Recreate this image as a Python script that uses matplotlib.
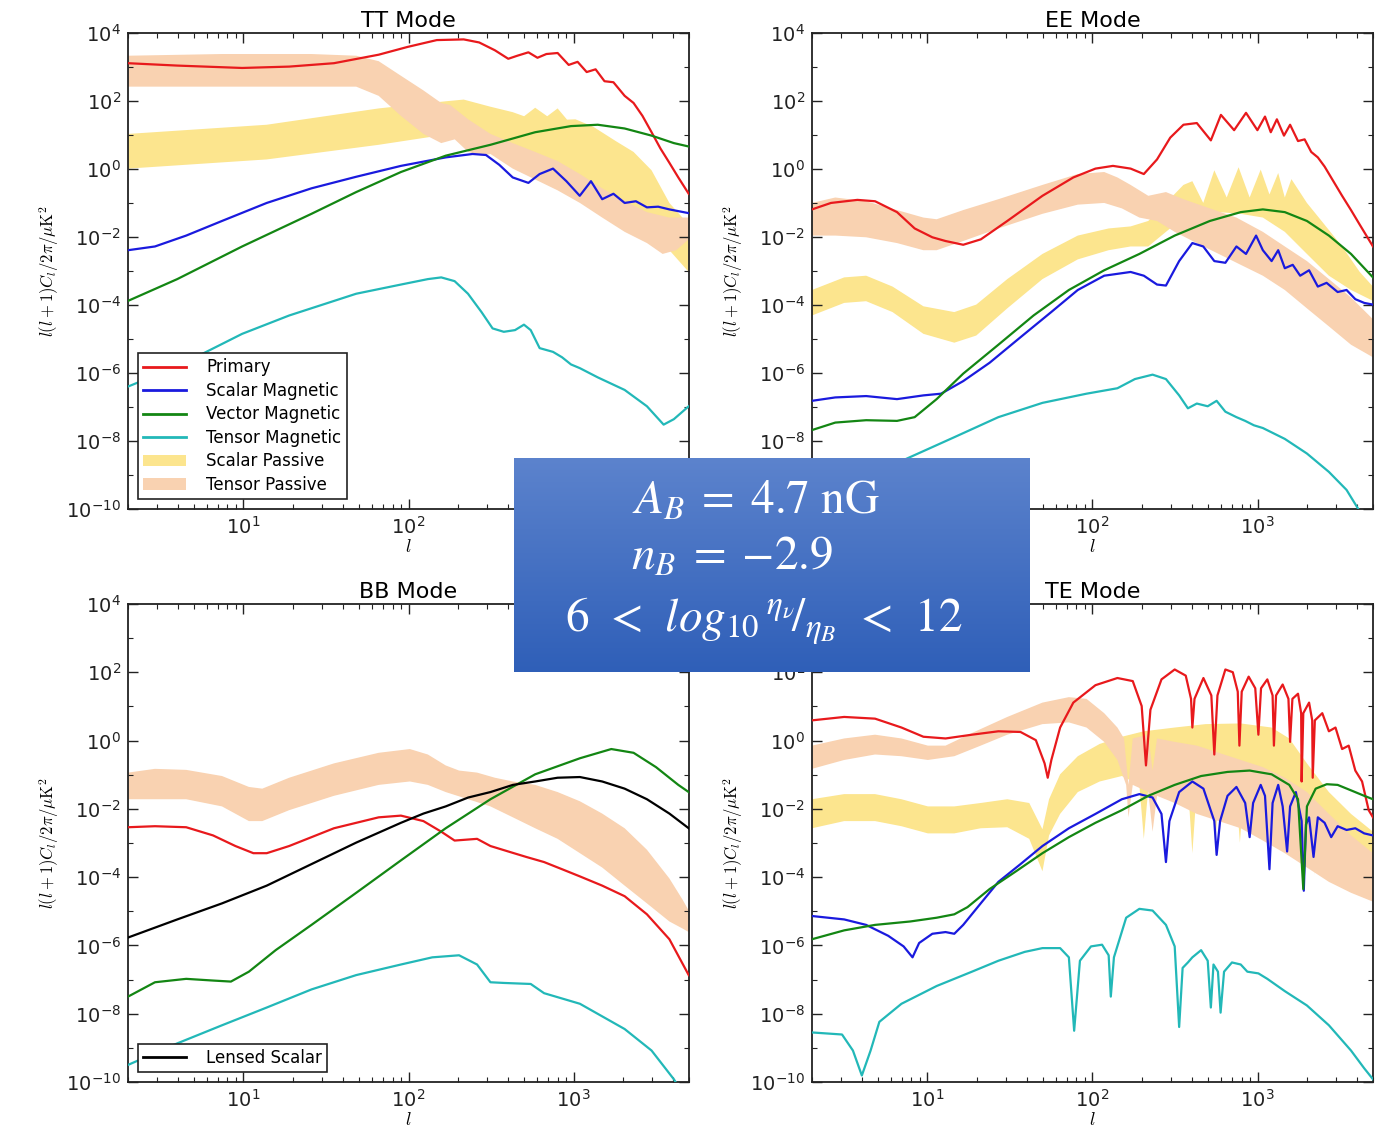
import numpy as np
import matplotlib.pyplot as plt
from matplotlib.patches import Patch
from matplotlib.lines import Line2D
from matplotlib.ticker import FuncFormatter, NullFormatter
from matplotlib.colors import LinearSegmentedColormap

plt.rcParams['mathtext.fontset'] = 'cm'
plt.rcParams['font.family'] = 'DejaVu Sans'

# all points are (log10 l, log10 l(l+1)C_l/2pi)

# ---- TT ----
tt_primary = [(0.301, 3.11), (0.599, 3.04), (0.992, 2.97), (1.277, 3.01), (1.548, 3.11), (1.819, 3.36),
              (1.995, 3.59), (2.171, 3.79), (2.334, 3.81), (2.428, 3.72), (2.523, 3.49), (2.604, 3.24),
              (2.659, 3.33), (2.726, 3.43), (2.781, 3.27), (2.835, 3.38), (2.903, 3.41), (2.970, 3.06),
              (3.024, 3.15), (3.079, 2.85), (3.133, 2.93), (3.187, 2.58), (3.241, 2.55), (3.309, 2.15),
              (3.363, 1.94), (3.417, 1.56), (3.472, 1.08), (3.526, 0.60), (3.580, 0.18), (3.634, -0.25),
              (3.697, -0.73)]
tt_scalar = [(0.301, -2.39), (0.464, -2.28), (0.653, -1.96), (0.870, -1.53), (1.141, -1.00), (1.412, -0.57),
             (1.683, -0.23), (1.954, 0.09), (2.225, 0.34), (2.388, 0.44), (2.469, 0.41), (2.550, 0.12),
             (2.631, -0.25), (2.726, -0.41), (2.794, -0.15), (2.875, 0.01), (2.956, -0.36), (3.037, -0.79),
             (3.105, -0.36), (3.173, -0.89), (3.241, -0.73), (3.309, -1.00), (3.377, -0.95), (3.444, -1.13),
             (3.512, -1.11), (3.580, -1.19), (3.697, -1.30)]
tt_vector = [(0.301, -3.88), (0.599, -3.24), (0.992, -2.28), (1.412, -1.32), (1.683, -0.68), (1.954, -0.09),
             (2.225, 0.39), (2.496, 0.71), (2.767, 1.08), (2.984, 1.26), (3.146, 1.30), (3.309, 1.19),
             (3.472, 0.98), (3.607, 0.76), (3.697, 0.66)]
tt_tensor = [(0.301, -6.40), (0.599, -5.81), (0.992, -4.85), (1.277, -4.31), (1.683, -3.67), (1.954, -3.40),
             (2.117, -3.24), (2.198, -3.19), (2.279, -3.30), (2.360, -3.67), (2.442, -4.21), (2.509, -4.69),
             (2.577, -4.79), (2.645, -4.74), (2.699, -4.58), (2.740, -4.74), (2.794, -5.27), (2.875, -5.38),
             (2.930, -5.54), (2.984, -5.75), (3.038, -5.86), (3.146, -6.13), (3.309, -6.50), (3.444, -6.98),
             (3.545, -7.52), (3.607, -7.36), (3.697, -6.98)]
tt_spass_hi = [(0.301, 1.03), (1.141, 1.30), (1.819, 1.78), (2.225, 1.99), (2.334, 2.04), (2.496, 1.83),
               (2.631, 1.67), (2.700, 1.55), (2.767, 1.80), (2.840, 1.55), (2.903, 1.78), (2.960, 1.45),
               (3.011, 1.46), (3.119, 1.24), (3.255, 0.82), (3.363, 0.50), (3.472, -0.04), (3.580, -1.00),
               (3.697, -1.64)]
tt_spass_lo = [(0.301, 0.01), (1.141, 0.28), (1.819, 0.71), (2.225, 1.01), (2.334, 0.87), (2.496, 0.50),
               (2.631, 0.23), (2.767, 0.07), (2.903, -0.15), (3.038, -0.47), (3.173, -0.84), (3.309, -1.11),
               (3.444, -1.64), (3.580, -2.39), (3.697, -3.03)]
tt_tpass_hi = [(0.301, 3.33), (0.870, 3.38), (1.412, 3.38), (1.683, 3.33), (1.819, 3.17), (1.954, 2.74),
               (2.090, 2.31), (2.198, 1.94), (2.252, 1.88), (2.361, 1.46), (2.496, 1.03), (2.631, 0.76),
               (2.767, 0.50), (2.903, 0.23), (3.038, -0.15), (3.173, -0.57), (3.309, -0.95), (3.444, -1.27),
               (3.580, -1.43), (3.697, -1.43)]
tt_tpass_lo = [(0.301, 2.42), (0.870, 2.42), (1.412, 2.42), (1.683, 2.42), (1.819, 2.15), (1.954, 1.56),
               (2.090, 1.03), (2.198, 0.76), (2.280, 0.87), (2.361, 0.50), (2.442, 0.39), (2.496, 0.44),
               (2.631, 0.01), (2.767, -0.31), (2.903, -0.63), (3.038, -1.00), (3.173, -1.43), (3.309, -1.85),
               (3.444, -2.18), (3.539, -2.50), (3.621, -2.39), (3.697, -2.07)]

# ---- EE ----
ee_primary = [(0.301, -1.19), (0.416, -1.00), (0.576, -0.91), (0.683, -0.95), (0.816, -1.27), (0.923, -1.75),
              (1.030, -2.01), (1.110, -2.12), (1.217, -2.23), (1.324, -2.07), (1.484, -1.53), (1.697, -0.79),
              (1.884, -0.25), (2.018, 0.01), (2.124, 0.09), (2.231, 0.01), (2.311, -0.15), (2.391, 0.28),
              (2.471, 0.92), (2.551, 1.30), (2.632, 1.35), (2.717, 0.84), (2.778, 1.59), (2.858, 1.14),
              (2.930, 1.65), (2.999, 1.14), (3.045, 1.54), (3.080, 1.08), (3.117, 1.46), (3.160, 0.98),
              (3.197, 1.30), (3.245, 0.82), (3.285, 0.87), (3.325, 0.50), (3.365, 0.34), (3.406, 0.07),
              (3.459, -0.36), (3.512, -0.79), (3.566, -1.21), (3.619, -1.64), (3.699, -2.28)]
ee_scalar = [(0.301, -6.82), (0.442, -6.72), (0.629, -6.68), (0.816, -6.77), (0.976, -6.66), (1.083, -6.61),
             (1.217, -6.24), (1.377, -5.70), (1.564, -4.95), (1.750, -4.21), (1.911, -3.56), (2.071, -3.14),
             (2.231, -3.03), (2.311, -3.14), (2.391, -3.40), (2.445, -3.43), (2.525, -2.71), (2.605, -2.18),
             (2.671, -2.28), (2.738, -2.71), (2.805, -2.76), (2.872, -2.28), (2.930, -2.50), (2.991, -1.96),
             (3.032, -2.39), (3.085, -2.71), (3.125, -2.39), (3.165, -2.92), (3.213, -2.82), (3.258, -3.14),
             (3.312, -2.98), (3.365, -3.46), (3.418, -3.35), (3.485, -3.62), (3.539, -3.56), (3.592, -3.83),
             (3.646, -3.94), (3.699, -3.99)]
ee_vector = [(0.301, -7.68), (0.442, -7.46), (0.629, -7.39), (0.816, -7.41), (0.923, -7.30), (1.056, -6.77),
             (1.217, -6.02), (1.430, -5.17), (1.643, -4.31), (1.857, -3.56), (2.071, -2.98), (2.284, -2.50),
             (2.498, -1.96), (2.711, -1.53), (2.898, -1.27), (3.032, -1.19), (3.165, -1.27), (3.299, -1.53),
             (3.432, -1.96), (3.566, -2.50), (3.699, -3.19)]
ee_tensor = [(0.301, -9.78), (0.843, -8.59), (1.163, -7.89), (1.430, -7.30), (1.697, -6.88), (1.964, -6.61),
             (2.151, -6.45), (2.257, -6.18), (2.364, -6.05), (2.445, -6.18), (2.525, -6.66), (2.578, -7.04),
             (2.632, -6.90), (2.698, -6.98), (2.752, -6.82), (2.805, -7.14), (2.872, -7.30), (2.925, -7.41),
             (2.978, -7.54), (3.032, -7.62), (3.165, -7.94), (3.299, -8.37), (3.432, -8.91), (3.539, -9.44),
             (3.606, -9.97), (3.646, -10.3)]
ee_spass_hi = [(0.301, -3.56), (0.496, -3.19), (0.629, -3.14), (0.789, -3.46), (0.976, -4.04), (1.163, -4.21),
               (1.296, -3.99), (1.484, -3.24), (1.697, -2.50), (1.911, -1.96), (2.098, -1.75), (2.231, -1.69),
               (2.338, -1.53), (2.445, -1.00), (2.551, -0.47), (2.605, -0.36), (2.671, -1.00), (2.738, -0.04),
               (2.813, -0.84), (2.885, 0.05), (2.952, -0.84), (3.019, -0.02), (3.072, -0.75), (3.125, -0.12),
               (3.165, -0.84), (3.205, -0.30), (3.299, -1.00), (3.406, -1.64), (3.512, -2.28), (3.619, -3.03),
               (3.699, -3.46)]
ee_spass_lo = [(0.301, -4.31), (0.496, -3.94), (0.629, -3.89), (0.789, -4.21), (0.976, -4.85), (1.163, -5.11),
               (1.296, -4.90), (1.484, -4.10), (1.697, -3.24), (1.911, -2.66), (2.098, -2.39), (2.231, -2.28),
               (2.338, -2.28), (2.445, -1.85), (2.551, -1.43), (2.658, -1.21), (2.765, -1.27), (2.898, -1.32),
               (3.032, -1.43), (3.165, -1.85), (3.299, -2.50), (3.432, -3.14), (3.566, -3.56), (3.699, -3.88)]
ee_tpass_hi = [(0.301, -1.00), (0.442, -0.84), (0.629, -0.95), (0.816, -1.21), (0.976, -1.43), (1.056, -1.48),
               (1.217, -1.21), (1.430, -0.89), (1.697, -0.47), (1.911, -0.15), (2.071, -0.09), (2.151, -0.25),
               (2.231, -0.47), (2.338, -0.79), (2.445, -0.68), (2.551, -0.89), (2.711, -1.16), (2.872, -1.43),
               (3.032, -1.85), (3.165, -2.28), (3.299, -2.71), (3.432, -3.24), (3.566, -3.78), (3.699, -4.42)]
ee_tpass_lo = [(0.301, -1.96), (0.442, -1.96), (0.629, -2.01), (0.816, -2.18), (0.976, -2.39), (1.056, -2.39),
               (1.217, -2.12), (1.430, -1.75), (1.697, -1.32), (1.911, -1.05), (2.071, -1.00), (2.178, -1.16),
               (2.284, -1.43), (2.391, -1.53), (2.498, -1.85), (2.631, -2.18), (2.765, -2.50), (2.898, -2.82),
               (3.032, -3.14), (3.165, -3.56), (3.299, -4.10), (3.432, -4.63), (3.566, -5.17), (3.699, -5.54)]

# ---- BB ----
bb_primary = [(0.301, -2.54), (0.464, -2.51), (0.653, -2.54), (0.816, -2.78), (0.951, -3.09), (1.060, -3.30),
              (1.141, -3.30), (1.277, -3.09), (1.548, -2.57), (1.819, -2.25), (1.954, -2.20), (2.090, -2.36),
              (2.198, -2.67), (2.279, -2.93), (2.361, -2.90), (2.415, -2.88), (2.496, -3.09), (2.604, -3.25),
              (2.713, -3.41), (2.821, -3.56), (2.930, -3.77), (3.038, -3.98), (3.173, -4.25), (3.309, -4.56),
              (3.444, -5.09), (3.580, -5.82), (3.697, -6.87)]
bb_lensed = [(0.301, -5.77), (0.599, -5.24), (0.870, -4.77), (1.141, -4.25), (1.412, -3.62), (1.683, -2.99),
             (1.954, -2.41), (2.090, -2.14), (2.225, -1.93), (2.361, -1.67), (2.496, -1.51), (2.632, -1.30),
             (2.767, -1.20), (2.903, -1.09), (3.038, -1.07), (3.173, -1.20), (3.309, -1.41), (3.444, -1.72),
             (3.580, -2.14), (3.697, -2.57)]
bb_vector = [(0.301, -7.50), (0.464, -7.08), (0.653, -6.98), (0.816, -7.03), (0.924, -7.06), (1.033, -6.77),
             (1.195, -6.14), (1.412, -5.40), (1.683, -4.46), (1.954, -3.51), (2.225, -2.57), (2.496, -1.72),
             (2.767, -0.99), (3.038, -0.52), (3.228, -0.25), (3.363, -0.36), (3.499, -0.78), (3.634, -1.30),
             (3.697, -1.51)]
bb_tensor = [(0.301, -9.50), (0.599, -8.87), (0.870, -8.34), (1.141, -7.82), (1.412, -7.29), (1.683, -6.87),
             (1.954, -6.56), (2.144, -6.35), (2.306, -6.29), (2.415, -6.56), (2.496, -7.08), (2.577, -7.10),
             (2.740, -7.13), (2.821, -7.40), (3.038, -7.71), (3.309, -8.45), (3.472, -9.08), (3.607, -9.92),
             (3.661, -10.34)]
bb_tpass_hi = [(0.301, -0.94), (0.464, -0.83), (0.653, -0.86), (0.870, -1.04), (1.033, -1.36), (1.114, -1.41),
               (1.277, -1.09), (1.548, -0.67), (1.819, -0.36), (2.008, -0.25), (2.117, -0.41), (2.225, -0.73),
               (2.306, -0.88), (2.415, -0.94), (2.523, -1.09), (2.632, -1.20), (2.767, -1.30), (2.903, -1.51),
               (3.038, -1.78), (3.173, -2.14), (3.309, -2.57), (3.444, -3.20), (3.580, -4.04), (3.661, -4.67),
               (3.697, -4.98)]
bb_tpass_lo = [(0.301, -1.72), (0.464, -1.72), (0.653, -1.72), (0.870, -1.93), (1.033, -2.36), (1.114, -2.36),
               (1.277, -2.04), (1.548, -1.62), (1.819, -1.30), (2.008, -1.20), (2.117, -1.30), (2.225, -1.51),
               (2.361, -1.72), (2.496, -1.93), (2.632, -2.25), (2.767, -2.57), (2.903, -2.88), (3.038, -3.30),
               (3.173, -3.72), (3.309, -4.25), (3.444, -4.77), (3.580, -5.30), (3.661, -5.51), (3.697, -5.61)]

# ---- TE ----
te_primary = [(0.301, 0.59), (0.496, 0.69), (0.683, 0.64), (0.843, 0.38), (0.976, 0.11), (1.110, 0.06),
              (1.270, 0.17), (1.430, 0.27), (1.564, 0.25), (1.657, 0.01), (1.710, -0.67), (1.729, -1.09),
              (1.751, -0.57), (1.804, 0.38), (1.884, 1.11), (2.018, 1.62), (2.151, 1.83), (2.244, 1.74),
              (2.298, 1.01), (2.324, -0.73), (2.351, 0.90), (2.418, 1.79), (2.498, 2.08), (2.565, 1.90),
              (2.597, 1.22), (2.605, 0.38), (2.618, 1.22), (2.672, 1.83), (2.720, 1.32), (2.738, -0.41),
              (2.757, 1.32), (2.805, 2.08), (2.850, 2.00), (2.880, 1.43), (2.890, -0.15), (2.904, 1.43),
              (2.946, 1.87), (2.986, 1.53), (3.005, 0.17), (3.021, 1.53), (3.059, 1.79), (3.091, 1.32),
              (3.099, -0.15), (3.112, 1.32), (3.152, 1.64), (3.187, 1.22), (3.197, -0.04), (3.211, 1.22),
              (3.245, 1.37), (3.264, 0.80), (3.267, -1.20), (3.277, 0.80), (3.312, 1.11), (3.331, 0.59),
              (3.334, -1.09), (3.347, 0.59), (3.392, 0.80), (3.432, 0.27), (3.472, 0.38), (3.512, -0.25),
              (3.552, -0.15), (3.592, -0.88), (3.633, -1.20), (3.673, -2.04), (3.699, -2.25)]
te_scalar = [(0.301, -5.14), (0.496, -5.24), (0.629, -5.40), (0.763, -5.72), (0.856, -6.03), (0.910, -6.35),
             (0.950, -5.93), (1.030, -5.66), (1.110, -5.61), (1.163, -5.66), (1.217, -5.40), (1.323, -4.77),
             (1.430, -4.14), (1.564, -3.62), (1.697, -3.09), (1.857, -2.57), (2.018, -2.15), (2.178, -1.72),
             (2.284, -1.57), (2.364, -1.67), (2.418, -2.15), (2.445, -3.56), (2.466, -2.36), (2.525, -1.51),
             (2.605, -1.20), (2.672, -1.41), (2.738, -2.36), (2.752, -3.35), (2.773, -2.36), (2.818, -1.62),
             (2.872, -1.36), (2.925, -1.83), (2.952, -2.83), (2.973, -1.83), (3.019, -1.30), (3.045, -1.62),
             (3.072, -3.77), (3.091, -1.83), (3.125, -1.30), (3.152, -1.93), (3.179, -3.25), (3.197, -1.93),
             (3.232, -1.51), (3.267, -2.36), (3.280, -4.40), (3.293, -2.46), (3.312, -2.25), (3.339, -3.41),
             (3.365, -2.25), (3.406, -2.41), (3.446, -2.83), (3.485, -2.51), (3.539, -2.62), (3.592, -2.57),
             (3.646, -2.72), (3.699, -2.78)]
te_vector = [(0.301, -5.82), (0.496, -5.56), (0.683, -5.40), (0.896, -5.30), (1.056, -5.19), (1.163, -5.09),
             (1.243, -4.88), (1.377, -4.35), (1.537, -3.83), (1.697, -3.30), (1.857, -2.83), (2.018, -2.41),
             (2.178, -2.04), (2.338, -1.62), (2.498, -1.30), (2.658, -1.04), (2.818, -0.92), (2.952, -0.88),
             (3.085, -0.99), (3.192, -1.30), (3.245, -1.72), (3.277, -4.35), (3.299, -1.93), (3.352, -1.41),
             (3.419, -1.28), (3.485, -1.30), (3.566, -1.46), (3.646, -1.62), (3.699, -1.72)]
te_tensor = [(0.301, -8.55), (0.483, -8.61), (0.549, -9.08), (0.603, -9.81), (0.656, -9.08), (0.709, -8.24),
             (0.843, -7.71), (1.056, -7.19), (1.270, -6.77), (1.430, -6.45), (1.590, -6.19), (1.697, -6.08),
             (1.804, -6.08), (1.857, -6.35), (1.889, -8.50), (1.924, -6.45), (1.991, -6.03), (2.058, -5.98),
             (2.098, -6.29), (2.111, -7.50), (2.130, -6.35), (2.204, -5.19), (2.284, -4.93), (2.364, -4.98),
             (2.445, -5.40), (2.498, -6.03), (2.525, -8.39), (2.546, -6.66), (2.578, -6.50), (2.605, -6.35),
             (2.658, -6.14), (2.698, -6.45), (2.717, -7.82), (2.733, -6.56), (2.760, -6.77), (2.776, -7.97),
             (2.797, -6.77), (2.845, -6.50), (2.898, -6.56), (2.938, -6.77), (3.005, -6.82), (3.059, -6.98),
             (3.165, -7.34), (3.299, -7.76), (3.432, -8.34), (3.566, -9.08), (3.646, -9.60), (3.699, -9.92)]
te_spass_hi = [(0.301, -1.72), (0.496, -1.57), (0.683, -1.57), (0.843, -1.72), (1.003, -1.93), (1.163, -1.93),
               (1.323, -1.83), (1.484, -1.72), (1.617, -1.83), (1.697, -2.60), (1.737, -1.72), (1.804, -0.99),
               (1.911, -0.46), (2.044, -0.10), (2.178, 0.11), (2.311, 0.27), (2.498, 0.38), (2.685, 0.48),
               (2.898, 0.50), (3.085, 0.38), (3.192, 0.06), (3.299, -0.67), (3.432, -1.51), (3.566, -2.15),
               (3.699, -2.67)]
te_spass_lo = [(0.301, -2.57), (0.496, -2.36), (0.683, -2.36), (0.843, -2.51), (1.003, -2.72), (1.163, -2.72),
               (1.323, -2.57), (1.484, -2.54), (1.617, -2.88), (1.697, -3.83), (1.737, -2.78), (1.804, -2.15),
               (1.911, -1.51), (2.044, -1.20), (2.178, -1.04), (2.284, -1.30), (2.311, -2.88), (2.338, -1.41),
               (2.445, -1.09), (2.578, -1.30), (2.605, -3.30), (2.632, -1.41), (2.725, -1.51), (2.744, -3.09),
               (2.765, -1.51), (2.872, -1.62), (2.893, -2.99), (2.914, -1.62), (3.005, -1.72), (3.021, -2.78),
               (3.037, -1.72), (3.138, -1.93), (3.245, -2.25), (3.339, -2.57), (3.347, -3.93), (3.357, -2.57),
               (3.459, -2.88), (3.566, -3.20), (3.699, -3.51)]
te_tpass_hi = [(0.301, -0.15), (0.496, 0.06), (0.683, 0.17), (0.843, 0.06), (1.003, -0.15), (1.110, -0.15),
               (1.270, 0.22), (1.484, 0.69), (1.697, 1.11), (1.857, 1.27), (1.964, 1.22), (2.071, 0.80),
               (2.151, 0.38), (2.191, 0.06), (2.218, -1.30), (2.244, 0.06), (2.338, 0.17), (2.364, -0.88),
               (2.391, 0.06), (2.498, -0.04), (2.632, -0.15), (2.765, -0.36), (2.898, -0.57), (3.032, -0.78),
               (3.165, -1.09), (3.299, -1.51), (3.432, -2.15), (3.566, -2.78), (3.699, -3.30)]
te_tpass_lo = [(0.301, -0.83), (0.496, -0.57), (0.683, -0.41), (0.843, -0.46), (1.003, -0.57), (1.163, -0.46),
               (1.323, -0.15), (1.484, 0.17), (1.697, 0.48), (1.857, 0.53), (1.964, 0.38), (2.071, -0.04),
               (2.151, -0.57), (2.204, -1.30), (2.218, -2.25), (2.244, -1.30), (2.338, -1.51), (2.364, -2.67),
               (2.391, -1.62), (2.498, -1.83), (2.632, -2.15), (2.765, -2.36), (2.898, -2.57), (3.032, -2.93),
               (3.165, -3.30), (3.299, -3.72), (3.432, -4.14), (3.566, -4.46), (3.699, -4.72)]

RED, BLUE, GREEN, CYAN = '#e8191c', '#1a1ade', '#138613', '#22b8b8'
YELLOW, PEACH = '#fce58e', '#f9d2b1'


def curve(ax, pts, color):
    a = np.array(pts)
    ax.plot(10 ** a[:, 0], 10 ** a[:, 1], color=color, lw=1.6, zorder=3)


def band(ax, hi, lo, color):
    a = np.array(hi)
    b = np.array(lo)[::-1]
    xs = np.concatenate([a[:, 0], b[:, 0]])
    ys = np.concatenate([a[:, 1], b[:, 1]])
    ax.fill(10 ** xs, 10 ** ys, color=color, lw=0, zorder=1)


def pow_fmt(v, pos):
    return r'$\mathregular{10^{%d}}$' % int(round(np.log10(v)))


def setup(ax, title):
    ax.set_xscale('log')
    ax.set_yscale('log')
    ax.set_xlim(2, 5000)
    ax.set_ylim(1e-10, 1e4)
    ax.set_yticks([10.0 ** k for k in range(-10, 5, 2)])
    ax.set_yticks([10.0 ** k for k in range(-9, 4, 2)], minor=True)
    ax.yaxis.set_minor_formatter(NullFormatter())
    ax.yaxis.set_major_formatter(FuncFormatter(pow_fmt))
    ax.xaxis.set_major_formatter(FuncFormatter(pow_fmt))
    ax.xaxis.set_minor_formatter(NullFormatter())
    ax.tick_params(which='both', direction='in', top=True, right=True, labelsize=14, colors='#222222')
    ax.tick_params(which='major', length=7, width=1, pad=5)
    ax.tick_params(which='minor', length=3.5, width=0.8)
    for s in ax.spines.values():
        s.set_linewidth(1.3)
        s.set_color('#222222')
    ax.set_title(title, fontsize=16, pad=4)
    ax.set_xlabel(r'$l$', fontsize=13, labelpad=0)
    ax.set_ylabel(r'$l(l+1)C_l/2\pi/\mu\mathrm{K}^2$', fontsize=12, labelpad=4)


fig = plt.figure(figsize=(13.8, 11.32), dpi=100)
ax_tt = fig.add_axes([0.0928, 0.5504, 0.4065, 0.4205])
ax_ee = fig.add_axes([0.5884, 0.5504, 0.4065, 0.4205])
ax_bb = fig.add_axes([0.0928, 0.0442, 0.4065, 0.4223])
ax_te = fig.add_axes([0.5884, 0.0442, 0.4065, 0.4223])

# TT
band(ax_tt, tt_spass_hi, tt_spass_lo, YELLOW)
band(ax_tt, tt_tpass_hi, tt_tpass_lo, PEACH)
curve(ax_tt, tt_primary, RED)
curve(ax_tt, tt_scalar, BLUE)
curve(ax_tt, tt_vector, GREEN)
curve(ax_tt, tt_tensor, CYAN)
setup(ax_tt, 'TT Mode')
handles = [Line2D([], [], color=RED, lw=2), Line2D([], [], color=BLUE, lw=2),
           Line2D([], [], color=GREEN, lw=2), Line2D([], [], color=CYAN, lw=2),
           Patch(color=YELLOW, lw=0), Patch(color=PEACH, lw=0)]
labels = ['Primary', 'Scalar Magnetic', 'Vector Magnetic', 'Tensor Magnetic',
          'Scalar Passive', 'Tensor Passive']
leg = ax_tt.legend(handles, labels, loc='lower left', fontsize=12, fancybox=False,
                   edgecolor='#222222', framealpha=1, labelspacing=0.33, handlelength=2.6,
                   handletextpad=1.2, borderpad=0.3, borderaxespad=0.6)
leg.get_frame().set_linewidth(1.2)

# EE
band(ax_ee, ee_spass_hi, ee_spass_lo, YELLOW)
band(ax_ee, ee_tpass_hi, ee_tpass_lo, PEACH)
curve(ax_ee, ee_primary, RED)
curve(ax_ee, ee_scalar, BLUE)
curve(ax_ee, ee_vector, GREEN)
curve(ax_ee, ee_tensor, CYAN)
setup(ax_ee, 'EE Mode')

# BB
band(ax_bb, bb_tpass_hi, bb_tpass_lo, PEACH)
curve(ax_bb, bb_primary, RED)
curve(ax_bb, bb_vector, GREEN)
curve(ax_bb, bb_tensor, CYAN)
curve(ax_bb, bb_lensed, 'black')
setup(ax_bb, 'BB Mode')
leg2 = ax_bb.legend([Line2D([], [], color='black', lw=2)], ['Lensed Scalar'], loc='lower left',
                    fontsize=12, fancybox=False, edgecolor='#222222', framealpha=1,
                    handlelength=2.6, handletextpad=1.2, borderpad=0.3, borderaxespad=0.6)
leg2.get_frame().set_linewidth(1.2)

# TE
band(ax_te, te_spass_hi, te_spass_lo, YELLOW)
band(ax_te, te_tpass_hi, te_tpass_lo, PEACH)
curve(ax_te, te_primary, RED)
curve(ax_te, te_scalar, BLUE)
curve(ax_te, te_vector, GREEN)
curve(ax_te, te_tensor, CYAN)
setup(ax_te, 'TE Mode')

# parameter box on top
box = fig.add_axes([0.3725, 0.4064, 0.3739, 0.189])
grad = np.linspace(0, 1, 256).reshape(-1, 1)
cmap = LinearSegmentedColormap.from_list('boxblue', ['#5c83cd', '#2f5fb8'])
box.imshow(grad, aspect='auto', cmap=cmap, extent=[0, 1, 0, 1], origin='upper')
box.set_xlim(0, 1)
box.set_ylim(0, 1)
box.axis('off')
txt = dict(color='white', fontsize=34, ha='center', va='center', math_fontfamily='stix')
box.text(0.469, 0.80, r'$A_B\;=\;4.7\ \mathrm{nG}$', **txt)
box.text(0.422, 0.535, r'$n_B\;=\;{-2.9}$', **txt)
box.text(0.485, 0.235, r'$6\;\,<\;\,log_{10}\,{}^{\eta_\nu}\!/_{\eta_B}\;\,<\;\,12$', **txt)

fig.savefig('out.png', dpi=100)
